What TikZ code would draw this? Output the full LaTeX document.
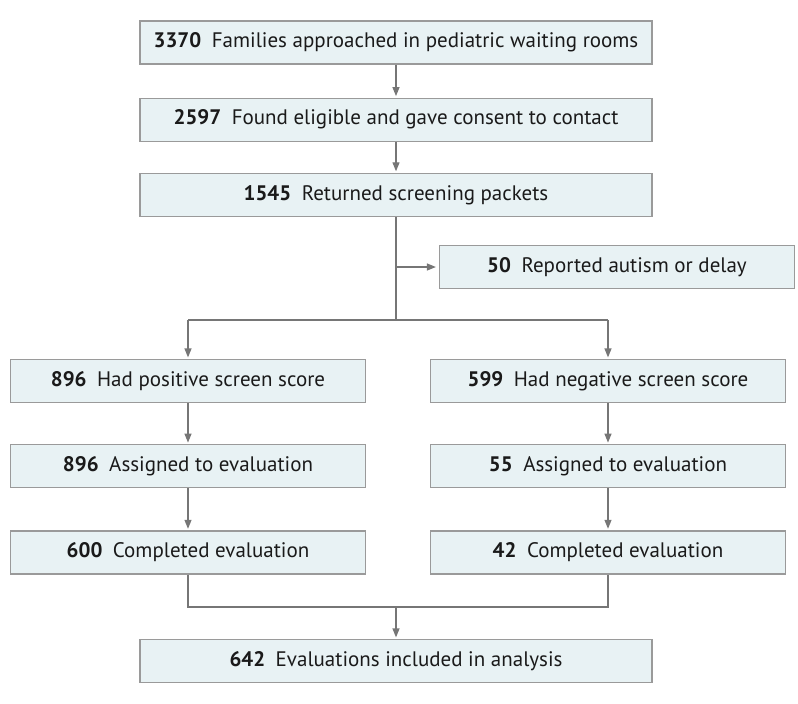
\documentclass[tikz,border=0pt]{standalone}
\usepackage{fontspec}
\setmainfont{PT Sans}
\usetikzlibrary{arrows.meta,positioning}
\definecolor{boxfill}{HTML}{E8F2F4}
\definecolor{boxline}{HTML}{9A9A9A}
\definecolor{flow}{HTML}{767676}
\definecolor{ink}{HTML}{1A1A1A}

\begin{document}
\begin{tikzpicture}[x=1pt,y=-1pt,node distance=33pt]
  \tikzstyle{bx}=[rectangle,draw=boxline,fill=boxfill,line width=1.2pt,minimum height=43pt,inner sep=0pt,text=ink,font=\fontsize{21}{24}\selectfont]
  \tikzstyle{wide}=[bx,minimum width=512pt]
  \tikzstyle{side}=[bx,minimum width=355pt]
  \tikzstyle{fl}=[flow,line width=1.2pt]
  \tikzstyle{ar}=[fl,-{Triangle[length=9pt,width=7pt]},shorten >=1.5pt]
  \useasboundingbox (0,0) rectangle (798,704);
  % main column
  \node[wide] (approached) at (396,42.5) {\textbf{3370}\enspace Families approached in pediatric waiting rooms};
  \node[wide,below=of approached] (eligible) {\textbf{2597}\enspace Found eligible and gave consent to contact};
  \node[wide,below=31pt of eligible] (returned) {\textbf{1545}\enspace Returned screening packets};
  \node[side] (reported) at (617,267) {\textbf{50}\enspace Reported autism or delay};
  % two arms
  \node[side] (positive) at (188,381) {\textbf{896}\enspace Had positive screen score};
  \node[side] (negative) at (608,381) {\textbf{599}\enspace Had negative screen score};
  \node[side,below=41pt of positive] (assignedpos) {\textbf{896}\enspace Assigned to evaluation};
  \node[side,below=41pt of negative] (assignedneg) {\textbf{55}\enspace Assigned to evaluation};
  \node[side,below=42pt of assignedpos] (completedpos) {\textbf{600}\enspace Completed evaluation};
  \node[side,below=42pt of assignedneg] (completedneg) {\textbf{42}\enspace Completed evaluation};
  \node[wide] (included) at (396,661) {\textbf{642}\enspace Evaluations included in analysis};
  \coordinate (split) at (396,320);
  \coordinate (merge) at (396,607);
  % connectors
  \draw[ar] (approached) -- (eligible);
  \draw[ar] (eligible) -- (returned);
  \draw[fl] (returned) -- (split);
  \draw[ar,shorten >=3pt] (returned.south |- reported.west) -- (reported.west);
  \draw[fl] (positive |- split) -- (negative |- split);
  \draw[ar] (positive |- split) -- (positive);
  \draw[ar] (negative |- split) -- (negative);
  \draw[ar] (positive) -- (assignedpos);
  \draw[ar] (negative) -- (assignedneg);
  \draw[ar] (assignedpos) -- (completedpos);
  \draw[ar] (assignedneg) -- (completedneg);
  \draw[fl] (completedpos) -- (completedpos |- merge) -- (completedneg |- merge) -- (completedneg);
  \draw[ar] (merge) -- (included);
\end{tikzpicture}
\end{document}
